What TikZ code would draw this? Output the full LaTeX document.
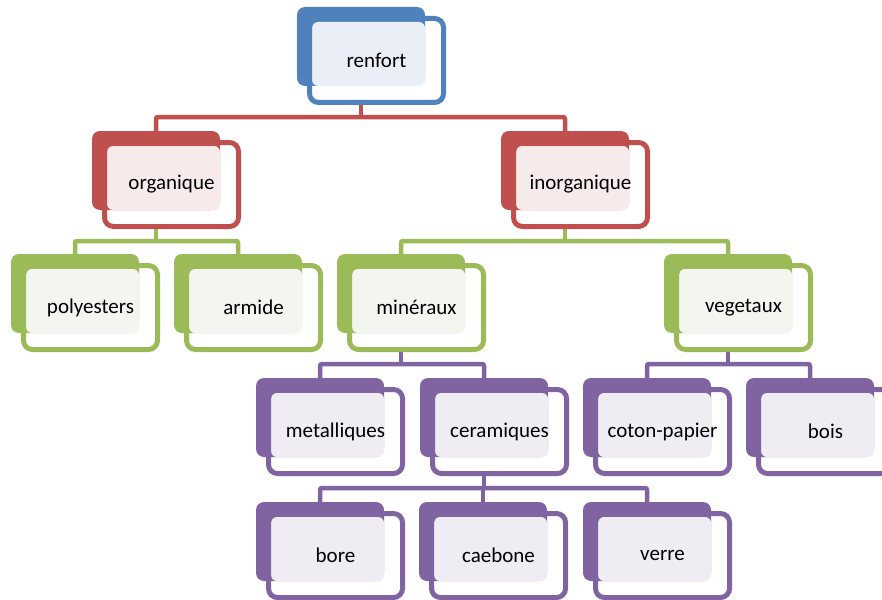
\documentclass[tikz,border=0pt]{standalone}
\usepackage{fontspec}
\setmainfont{Carlito}
\usetikzlibrary{backgrounds,calc}
\definecolor{cblue}{HTML}{4F81BD}
\definecolor{cred}{HTML}{C0504D}
\definecolor{cgreen}{HTML}{9BBB59}
\definecolor{cpurple}{HTML}{8064A2}
\definecolor{tblue}{HTML}{EAEFF7}
\definecolor{tred}{HTML}{F7EAEA}
\definecolor{tgreen}{HTML}{F3F6EE}
\definecolor{tpurple}{HTML}{EFEDF3}
\tikzset{
  backbox/.style={inner sep=0pt, outer sep=0pt, minimum width=128pt, minimum height=79pt, rounded corners=8pt},
  tintbox/.style={inner sep=0pt, outer sep=0pt, minimum width=113pt, minimum height=64pt, rounded corners=6pt},
  frontbox/.style={inner sep=0pt, line width=5pt, minimum width=134pt, minimum height=84pt, rounded corners=9pt, font=\fontsize{21pt}{24pt}\selectfont},
  conn/.style={line width=4.5pt, rounded corners=2pt}
}
\newcommand{\sabox}[6]{% name, X, Y, main colour, tint colour, text
  \node[backbox, fill=#4] (#1-b) at (#2+64, #3+39.5) {};
  \node[tintbox, fill=#5] (#1-t) at (#2+71.5, #3+47) {};
  \node[frontbox, draw=#4] (#1) at (#2+79.5, #3+53.5) {#6};
}
\begin{document}
\begin{tikzpicture}[x=1pt, y=-1pt]
\useasboundingbox (0,0) rectangle (882,599);
\clip (0,0) rectangle (882,599);
\sabox{renfort}{297}{7}{cblue}{tblue}{renfort}
\sabox{organique}{92}{131}{cred}{tred}{organique}
\sabox{inorganique}{501}{131}{cred}{tred}{inorganique}
\sabox{polyesters}{11}{254}{cgreen}{tgreen}{polyesters}
\sabox{armide}{174}{254}{cgreen}{tgreen}{armide}
\sabox{mineraux}{337}{254}{cgreen}{tgreen}{minéraux}
\sabox{vegetaux}{664}{254}{cgreen}{tgreen}{vegetaux}
\sabox{metalliques}{256}{378}{cpurple}{tpurple}{metalliques}
\sabox{ceramiques}{420}{378}{cpurple}{tpurple}{ceramiques}
\sabox{coton}{583}{378}{cpurple}{tpurple}{coton-papier}
\sabox{bois}{746}{378}{cpurple}{tpurple}{bois}
\sabox{bore}{256}{502}{cpurple}{tpurple}{bore}
\sabox{caebone}{419}{502}{cpurple}{tpurple}{caebone}
\sabox{verre}{583}{502}{cpurple}{tpurple}{verre}
\begin{pgfonlayer}{background}
  % renfort
  \draw[conn, cred] (renfort-b.south |- renfort.south) -- ++(0,12) coordinate (bus1);
  \draw[conn, cred] (organique-b.north) |- (bus1) -| (inorganique-b.north);
  % organique
  \draw[conn, cgreen] (organique-b.south |- organique.south) -- ++(0,12) coordinate (bus2a);
  \draw[conn, cgreen] (polyesters-b.north) |- (bus2a) -| (armide-b.north);
  % inorganique
  \draw[conn, cgreen] (inorganique-b.south |- inorganique.south) -- ++(0,12) coordinate (bus2b);
  \draw[conn, cgreen] (mineraux-b.north) |- (bus2b) -| (vegetaux-b.north);
  % mineraux
  \draw[conn, cpurple] (mineraux-b.south |- mineraux.south) -- ++(0,12) coordinate (bus3a);
  \draw[conn, cpurple] (metalliques-b.north) |- (bus3a) -| (ceramiques-b.north);
  % vegetaux
  \draw[conn, cpurple] (vegetaux-b.south |- vegetaux.south) -- ++(0,12) coordinate (bus3b);
  \draw[conn, cpurple] (coton-b.north) |- (bus3b) -| (bois-b.north);
  % ceramiques
  \draw[conn, cpurple] (ceramiques-b.south |- ceramiques.south) -- ++(0,12) coordinate (bus4);
  \draw[conn, cpurple] (bore-b.north) |- (bus4) -| (verre-b.north);
  \draw[conn, cpurple] (caebone-b.north) -- (caebone-b.north |- bus4);
\end{pgfonlayer}
\end{tikzpicture}
\end{document}
